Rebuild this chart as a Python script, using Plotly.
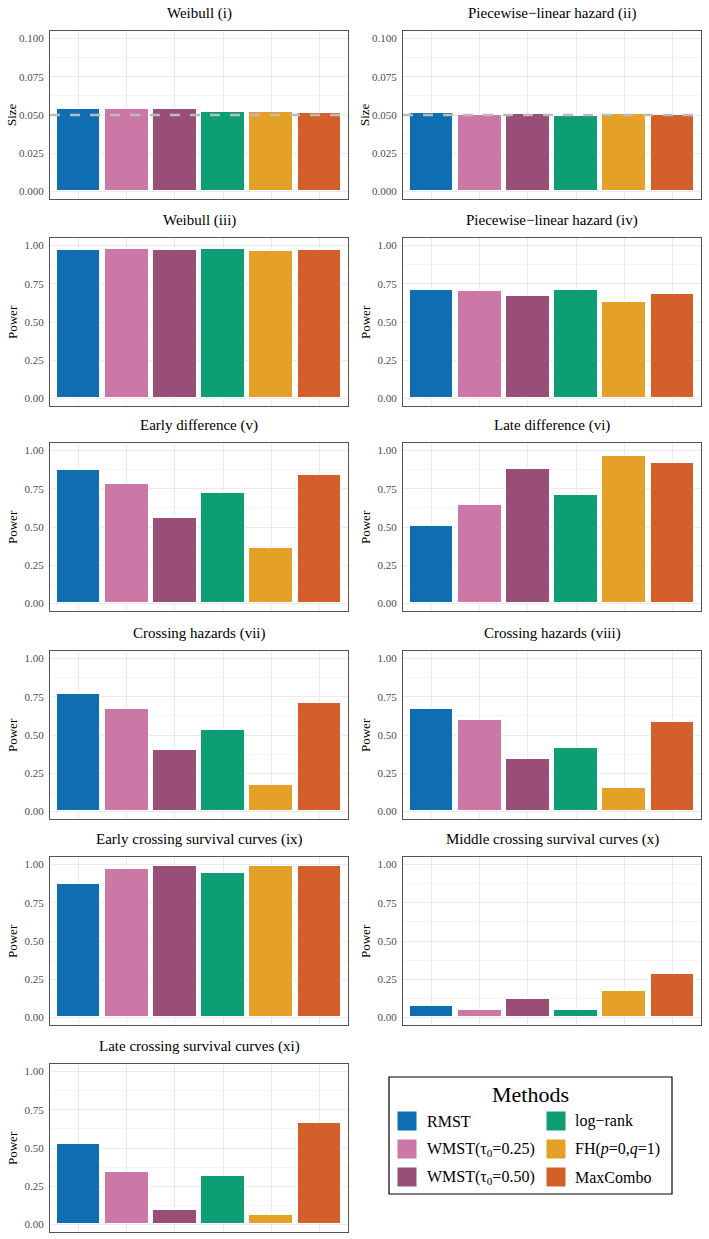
import plotly.graph_objects as go

# ---------------- data ----------------
methods = ["RMST", "WMST(τ<sub>0</sub>=0.25)", "WMST(τ<sub>0</sub>=0.50)",
           "log−rank", "FH(<i>p</i>=0,<i>q</i>=1)", "MaxCombo"]
method_colors = ["#0F6EB2", "#CB78A6", "#994E78", "#0E9E73", "#E5A028", "#D3602A"]

titles = ["Weibull (i)", "Piecewise−linear hazard (ii)",
          "Weibull (iii)", "Piecewise−linear hazard (iv)",
          "Early difference (v)", "Late difference (vi)",
          "Crossing hazards (vii)", "Crossing hazards (viii)",
          "Early crossing survival curves (ix)", "Middle crossing survival curves (x)",
          "Late crossing survival curves (xi)"]
ylabels = ["Size", "Size"] + ["Power"] * 9

weibull_i = [0.0539, 0.0541, 0.0539, 0.0519, 0.0519, 0.0515]
pwl_ii = [0.0511, 0.0500, 0.0509, 0.0496, 0.0509, 0.0502]
weibull_iii = [0.974, 0.978, 0.974, 0.978, 0.968, 0.972]
pwl_iv = [0.712, 0.706, 0.669, 0.712, 0.632, 0.686]
early_diff_v = [0.873, 0.784, 0.559, 0.723, 0.362, 0.838]
late_diff_vi = [0.507, 0.646, 0.883, 0.711, 0.963, 0.917]
cross_haz_vii = [0.771, 0.668, 0.400, 0.535, 0.175, 0.712]
cross_haz_viii = [0.669, 0.595, 0.346, 0.412, 0.150, 0.584]
early_cross_ix = [0.871, 0.972, 0.991, 0.948, 0.991, 0.993]
middle_cross_x = [0.076, 0.048, 0.120, 0.048, 0.175, 0.282]
late_cross_xi = [0.528, 0.341, 0.091, 0.315, 0.061, 0.663]

panel_values = [weibull_i, pwl_ii, weibull_iii, pwl_iv, early_diff_v, late_diff_vi,
                cross_haz_vii, cross_haz_viii, early_cross_ix, middle_cross_x, late_cross_xi]
NOMINAL_ALPHA = 0.05

# ---------------- layout geometry (pixels) ----------------
W, H = 709, 1239
row_tops = [31, 238, 443, 651, 857, 1064]
panel_h = 168
col_lefts = [50, 403]
panel_w = 298

FONT = "Liberation Serif"

def px_x(p):
    return p / W

def px_y(p):
    return 1 - p / H

fig = go.Figure()
annotations = []
shapes = []
layout_axes = {}

x_pos = list(range(1, len(methods) + 1))

for i, (vals, title, ylab) in enumerate(zip(panel_values, titles, ylabels)):
    r, c = divmod(i, 2)
    top = row_tops[r]
    left = col_lefts[c]
    n = i + 1
    xa = "x" if n == 1 else f"x{n}"
    ya = "y" if n == 1 else f"y{n}"
    is_size = ylab == "Size"

    fig.add_trace(go.Bar(
        x=x_pos, y=vals, xaxis=xa, yaxis=ya, width=0.9,
        marker=dict(color=method_colors, line=dict(color="white", width=1)),
        showlegend=False, hoverinfo="y"))

    if is_size:
        yr = [-0.005, 0.105]
        ytick = dict(tickvals=[0, 0.025, 0.05, 0.075, 0.1],
                     ticktext=["0.000", "0.025", "0.050", "0.075", "0.100"])
        minor = dict(tickvals=[0.0125, 0.0375, 0.0625, 0.0875])
    else:
        yr = [-0.05, 1.05]
        ytick = dict(tickvals=[0, 0.25, 0.5, 0.75, 1.0],
                     ticktext=["0.00", "0.25", "0.50", "0.75", "1.00"])
        minor = dict(tickvals=[0.125, 0.375, 0.625, 0.875])

    layout_axes["xaxis" if n == 1 else f"xaxis{n}"] = dict(
        domain=[px_x(left), px_x(left + panel_w)], anchor=ya,
        range=[0.4, 6.6], tickvals=x_pos, showticklabels=False,
        showgrid=True, gridcolor="#EBEBEB", gridwidth=1, zeroline=False,
        showline=True, mirror=True, linecolor="#555555", linewidth=1, ticks="")
    layout_axes["yaxis" if n == 1 else f"yaxis{n}"] = dict(
        domain=[px_y(top + panel_h), px_y(top)], anchor=xa,
        range=yr, **ytick, showgrid=True, gridcolor="#EBEBEB", gridwidth=1,
        minor=dict(**minor, showgrid=True, gridcolor="#F4F4F4", gridwidth=0.6),
        zeroline=False, showline=True, mirror=True, linecolor="#555555", linewidth=1,
        ticks="", ticklabelstandoff=3,
        tickfont=dict(family=FONT, size=11, color="#4D4D4D"))

    if is_size:
        shapes.append(dict(type="line", xref=xa, yref=ya, x0=0.4, x1=6.6,
                           y0=NOMINAL_ALPHA, y1=NOMINAL_ALPHA,
                           line=dict(color="#BBBBBB", width=2.5, dash="10px,10px"),
                           layer="above"))

    annotations.append(dict(text=title, xref="paper", yref="paper",
                            x=px_x(left + panel_w / 2), y=px_y(top - 17.5),
                            xanchor="center", yanchor="middle", showarrow=False,
                            font=dict(family=FONT, size=15, color="black")))
    annotations.append(dict(text=ylab, xref="paper", yref="paper",
                            x=px_x(left - 38), y=px_y(top + panel_h / 2),
                            xanchor="center", yanchor="middle", textangle=-90,
                            showarrow=False,
                            font=dict(family=FONT, size=13, color="black")))

# ---------------- manual legend ----------------
lg_x0, lg_x1, lg_y0, lg_y1 = 389, 672, 1077, 1194
shapes.append(dict(type="rect", xref="paper", yref="paper",
                   x0=px_x(lg_x0), x1=px_x(lg_x1), y0=px_y(lg_y1), y1=px_y(lg_y0),
                   line=dict(color="black", width=1.2), fillcolor="white", layer="below"))
annotations.append(dict(text="Methods", xref="paper", yref="paper",
                        x=px_x((lg_x0 + lg_x1) / 2), y=px_y(1094),
                        xanchor="center", yanchor="middle", showarrow=False,
                        font=dict(family=FONT, size=22, color="black")))
key_cols = [397, 546]
label_cols = [425, 573]
row_centers = [1121, 1149, 1177]
for k, (name, col) in enumerate(zip(methods, method_colors)):
    cc, rr = divmod(k, 3)
    kx, cy = key_cols[cc], row_centers[rr]
    shapes.append(dict(type="rect", xref="paper", yref="paper",
                       x0=px_x(kx), x1=px_x(kx + 20), y0=px_y(cy + 10), y1=px_y(cy - 10),
                       fillcolor=col, line=dict(color="white", width=1)))
    annotations.append(dict(text=name, xref="paper", yref="paper",
                            x=px_x(label_cols[cc]), y=px_y(cy),
                            xanchor="left", yanchor="middle", showarrow=False,
                            font=dict(family=FONT, size=16, color="black")))

fig.update_layout(width=W, height=H, autosize=False,
                  margin=dict(l=0, r=0, t=0, b=0),
                  paper_bgcolor="white", plot_bgcolor="white",
                  bargap=0, showlegend=False,
                  font=dict(family=FONT),
                  annotations=annotations, shapes=shapes, **layout_axes)

fig.write_html("out.html")
